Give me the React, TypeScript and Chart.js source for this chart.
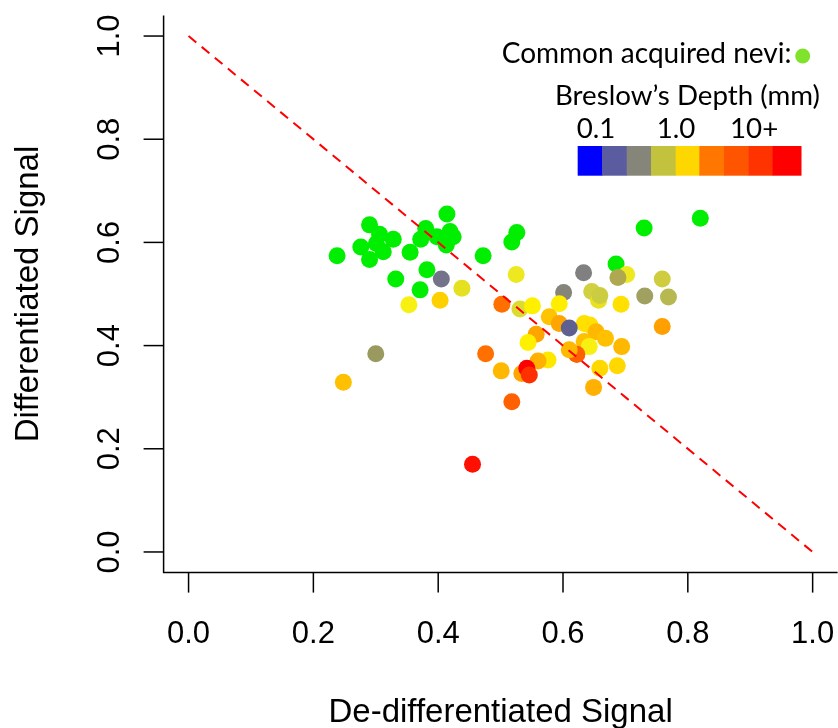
import React, { useEffect, useRef } from 'react';
import { Chart, registerables } from 'chart.js';

Chart.register(...registerables);

// ---- Data ----
const xTickValues = [0, 0.2, 0.4, 0.6, 0.8, 1.0];
const xTickLabels = ['0.0', '0.2', '0.4', '0.6', '0.8', '1.0'];
const yTickValues = [0, 0.2, 0.4, 0.6, 0.8, 1.0];
const yTickLabels = ['0.0', '0.2', '0.4', '0.6', '0.8', '1.0'];

const xTitle = 'De-differentiated Signal';
const yTitle = 'Differentiated Signal';

const refLineX = [0, 1];
const refLineY = [1, 0];

// Common acquired nevi (green)
const neviX = [0.238, 0.290, 0.306, 0.328, 0.276, 0.301, 0.312, 0.290, 0.355, 0.332, 0.371, 0.382, 0.380, 0.372, 0.398, 0.414, 0.419, 0.424, 0.413, 0.472, 0.518, 0.526, 0.685, 0.730, 0.820];
const neviY = [0.574, 0.634, 0.616, 0.606, 0.591, 0.598, 0.582, 0.567, 0.581, 0.529, 0.508, 0.547, 0.627, 0.606, 0.611, 0.655, 0.621, 0.611, 0.595, 0.574, 0.601, 0.619, 0.558, 0.628, 0.647];

// Melanomas (coloured by Breslow's depth)
const melX = [0.405, 0.438, 0.353, 0.403, 0.525, 0.633, 0.601, 0.646, 0.657, 0.659, 0.702, 0.688, 0.759, 0.731, 0.769, 0.693, 0.759, 0.502, 0.531, 0.551, 0.594, 0.578, 0.594, 0.622, 0.634, 0.643, 0.653, 0.668, 0.557, 0.544, 0.634, 0.642, 0.622, 0.610, 0.694, 0.576, 0.560, 0.476, 0.501, 0.534, 0.542, 0.546, 0.659, 0.687, 0.649, 0.518, 0.300, 0.248, 0.455, 0.610];
const melY = [0.529, 0.511, 0.479, 0.488, 0.538, 0.541, 0.503, 0.505, 0.488, 0.497, 0.538, 0.532, 0.529, 0.496, 0.494, 0.480, 0.437, 0.480, 0.471, 0.477, 0.481, 0.456, 0.443, 0.383, 0.443, 0.440, 0.427, 0.414, 0.422, 0.406, 0.408, 0.398, 0.383, 0.392, 0.398, 0.372, 0.370, 0.384, 0.351, 0.346, 0.356, 0.343, 0.356, 0.361, 0.319, 0.291, 0.384, 0.329, 0.170, 0.434];
const melColors = ['#73738A', '#E5E020', '#F8F010', '#FFD000', '#EEE820', '#808080', '#85857A', '#D0D040', '#E8E020', '#CCCC40', '#EEE820', '#B0A850', '#D0CC40', '#A0A060', '#B8B850', '#FFE000', '#FFA000', '#FF7000', '#DCDC30', '#FFF000', '#FFEE00', '#FFC400', '#FFA500', '#FF6000', '#FFE000', '#FFE000', '#FFB800', '#FFC000', '#FFA500', '#FFF000', '#FFC000', '#F8F010', '#FF6000', '#FFB800', '#FFB800', '#FFE800', '#FFB000', '#FF7000', '#FFB800', '#FFA500', '#FF0000', '#FF3000', '#FFD800', '#FFD800', '#FFB000', '#FF6000', '#9A9A60', '#FFC000', '#FF1000', '#606090'];

// Legend
const legendNeviLabel = 'Common acquired nevi:';
const legendDepthTitle = 'Breslow’s Depth (mm)';
const legendDepthTicks = ['0.1', '1.0', '10+'];
const legendBarColors = ['#0000FF', '#5B5BA0', '#85857A', '#C2C23E', '#FFD700', '#FF7700', '#FF5500', '#FF3300', '#FF0000'];

const TICK_FONT_FAMILY = '"Liberation Sans", Arial, Helvetica, sans-serif';
const LEGEND_FONT_FAMILY = 'Lato, "Open Sans", sans-serif';

function fitFont(ctx: CanvasRenderingContext2D, text: string, family: string, width: number) {
  ctx.font = `100px ${family}`;
  const w = ctx.measureText(text).width;
  return (100 * width) / w;
}

const axesPlugin = {
  id: 'customAxes',
  afterDatasetsDraw(chart: any) {
    const ctx: CanvasRenderingContext2D = chart.ctx;
    const area = chart.chartArea;
    const xs = chart.scales.x;
    const ys = chart.scales.y;
    ctx.save();
    ctx.strokeStyle = '#000';
    ctx.fillStyle = '#000';
    ctx.lineWidth = 1.5;
    // axis lines (L-shaped)
    ctx.beginPath();
    ctx.moveTo(area.left, area.top);
    ctx.lineTo(area.left, area.bottom);
    ctx.lineTo(area.right, area.bottom);
    ctx.stroke();

    ctx.font = `31px ${TICK_FONT_FAMILY}`;
    // x ticks
    ctx.textAlign = 'center';
    ctx.textBaseline = 'alphabetic';
    xTickValues.forEach((v, i) => {
      const px = xs.getPixelForValue(v);
      ctx.beginPath();
      ctx.moveTo(px, area.bottom);
      ctx.lineTo(px, area.bottom + 20);
      ctx.stroke();
      ctx.fillText(xTickLabels[i], px, area.bottom + 70);
    });
    // y ticks
    yTickValues.forEach((v, i) => {
      const py = ys.getPixelForValue(v);
      ctx.beginPath();
      ctx.moveTo(area.left, py);
      ctx.lineTo(area.left - 20, py);
      ctx.stroke();
      ctx.save();
      ctx.translate(area.left - 44.5, py);
      ctx.rotate(-Math.PI / 2);
      ctx.fillText(yTickLabels[i], 0, 0);
      ctx.restore();
    });
    // titles
    ctx.font = `33px ${TICK_FONT_FAMILY}`;
    ctx.fillText(xTitle, (area.left + area.right) / 2, 722);
    ctx.save();
    ctx.translate(38, (area.top + area.bottom) / 2);
    ctx.rotate(-Math.PI / 2);
    ctx.fillText(yTitle, 0, 0);
    ctx.restore();

    // legend
    ctx.textAlign = 'left';
    const s1 = fitFont(ctx, legendNeviLabel, LEGEND_FONT_FAMILY, 290);
    ctx.font = `${s1}px ${LEGEND_FONT_FAMILY}`;
    ctx.fillText(legendNeviLabel, 501.7, 63.3);
    ctx.fillStyle = '#7FE32B';
    ctx.beginPath();
    ctx.arc(802.7, 56, 7.5, 0, Math.PI * 2);
    ctx.fill();
    ctx.fillStyle = '#000';
    const s2 = fitFont(ctx, legendDepthTitle, LEGEND_FONT_FAMILY, 265);
    ctx.font = `${s2}px ${LEGEND_FONT_FAMILY}`;
    ctx.fillText(legendDepthTitle, 555, 105);
    const tickLefts = [576.7, 656.7, 730];
    legendDepthTicks.forEach((t, i) => ctx.fillText(t, tickLefts[i], 138.3));
    const edges = [293, 366, 440, 513, 587, 658, 732, 805, 877, 963].map((z) => z / 3 + 480);
    legendBarColors.forEach((c, i) => {
      ctx.fillStyle = c;
      ctx.fillRect(edges[i], 146, edges[i + 1] - edges[i] + 0.5, 29.7);
    });
    ctx.restore();
  },
};

export default function App() {
  const ref = useRef<HTMLCanvasElement>(null);
  useEffect(() => {
    const canvas = ref.current;
    if (!canvas) return;
    const chart = new Chart(canvas, {
      type: 'scatter',
      data: {
        datasets: [
          {
            type: 'line',
            data: refLineX.map((x, i) => ({ x, y: refLineY[i] })),
            borderColor: '#FF0000',
            borderWidth: 2,
            borderDash: [10, 7],
            pointRadius: 0,
            fill: false,
            order: 0,
          } as any,
          {
            data: melX.map((x, i) => ({ x, y: melY[i] })),
            backgroundColor: melColors,
            borderWidth: 0,
            pointRadius: 8.5,
            order: 1,
          },
          {
            data: neviX.map((x, i) => ({ x, y: neviY[i] })),
            backgroundColor: '#00EE00',
            borderWidth: 0,
            pointRadius: 8.5,
            order: 2,
          },
        ],
      },
      options: {
        responsive: false,
        devicePixelRatio: 1,
        animation: false,
        layout: { autoPadding: false, padding: { left: 163.6, top: 15.4, right: 0.4, bottom: 155.4 } },
        scales: {
          x: { type: 'linear', min: -0.04, max: 1.04, display: false },
          y: { type: 'linear', min: -0.04, max: 1.04, display: false },
        },
        plugins: { legend: { display: false }, tooltip: { enabled: false } },
      },
      plugins: [axesPlugin],
    });
    return () => chart.destroy();
  }, []);
  return (
    <div style={{ position: 'fixed', left: 0, top: 0, width: 838, height: 728, background: '#fff' }}>
      <canvas ref={ref} width={838} height={728} style={{ display: 'block', width: 838, height: 728 }} />
    </div>
  );
}
